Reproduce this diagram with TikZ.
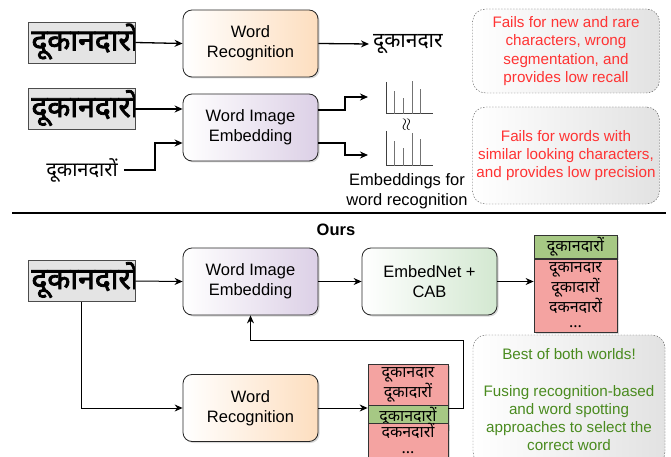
\documentclass[tikz,border=0pt]{standalone}
\usepackage{fontspec}
\setmainfont{Liberation Sans}
\newfontfamily\dev[Script=Devanagari]{Noto Sans}
\newfontfamily\devbold[Script=Devanagari, FakeBold=2.5]{Noto Sans}
\usetikzlibrary{arrows.meta, shadows}

\definecolor{recogfill}{HTML}{FDDEBF}
\definecolor{embedfill}{HTML}{DCD0E6}
\definecolor{cabfill}{HTML}{D3E8D1}
\definecolor{notefill}{HTML}{E2E2E2}
\definecolor{failred}{HTML}{FF3333}
\definecolor{goodgreen}{HTML}{4A8B1F}
\definecolor{rightcell}{HTML}{A6C884}
\definecolor{wrongcell}{HTML}{F4A3A1}
\definecolor{scanfill}{HTML}{E4E4E4}

\tikzset{
  box/.style={draw=black!85, line width=0.8pt, rounded corners=9pt,
    minimum width=135pt, minimum height=67pt, align=center,
    font=\fontsize{16.5}{20}\selectfont,
    drop shadow={shadow xshift=1.5pt, shadow yshift=-1.5pt, opacity=0.3}},
  recogbox/.style={box, left color=white, right color=recogfill},
  embedbox/.style={box, left color=white, right color=embedfill},
  cabbox/.style={box, left color=white, right color=cabfill},
  notebox/.style={draw=black!70, dash pattern=on 1.5pt off 1.5pt,
    rounded corners=13pt, left color=white, right color=notefill,
    align=center, font=\fontsize{15.2}{18.2}\selectfont},
  scan/.style={draw=black!70, line width=0.8pt, fill=scanfill,
    minimum width=107pt, minimum height=41pt, inner sep=0pt,
    path picture={\node[anchor=west, inner sep=0pt,
      font=\devbold\fontsize{30}{30}\selectfont]
      at ([xshift=3pt, yshift=1pt]path picture bounding box.west) {दूकानदारों};}},
  cell/.style={draw=black!80, line width=0.8pt, inner sep=0pt, align=center,
    font=\dev\fontsize{16}{19}\selectfont,
    drop shadow={shadow xshift=1.5pt, shadow yshift=-1.5pt, opacity=0.3}},
  conn/.style={line width=1.3pt, -{Stealth[length=8pt, width=7pt]}},
  bar/.style={black!55, line width=1pt},
}

\begin{document}
\begin{tikzpicture}[x=1pt, y=-1pt]
  \useasboundingbox (0,0) rectangle (671,457);

  % --- existing approaches ---
  \node[scan] (img1) at (81.5,42.5) {};
  \node[recogbox] (wr1) at (250.5,43.5) {Word\\Recognition};
  \node[anchor=west, inner sep=4pt, font=\dev\fontsize{21}{21}\selectfont]
    (out1) at (369,44) {दूकानदार};
  \draw[conn] (img1.east) -- (wr1.west);
  \draw[conn] (wr1.east) -- (out1.west);

  \node[scan] (img2) at (81.5,109) {};
  \node[embedbox] (wie1) at (250.5,127.5) {Word Image\\Embedding};
  \node[inner sep=6pt, font=\dev\fontsize{20}{20}\selectfont]
    (wtxt) at (82,170) {दूकानदारों};
  \coordinate (h1) at (386,114);
  \coordinate (h2) at (386,166);
  \coordinate (h1in) at (368,97);
  \coordinate (h2in) at (368,155);
  \draw[conn] (img2.east) -- (img2.east -| wie1.west);
  \draw[conn] (wtxt.east) -| (155,156) |- ([yshift=-15.5pt]wie1.west);
  \draw[conn] ([yshift=17.5pt]wie1.east) -| (345,104) |- (h1in);
  \draw[conn] ([yshift=-15.5pt]wie1.east) -| (345,150) |- (h2in);

  % embedding histograms
  \draw[black!75, line width=1pt] (h1) ++(0,-32) -- (h1) -- ++(47,0);
  \foreach \hx/\hy in {8/23, 17/16, 26/33, 34/25}
    \draw[bar] (h1) ++(\hx,0) -- ++(0,-\hy);
  \draw[black!75, line width=1pt] (h2) ++(0,-35) -- (h2) -- ++(47,0);
  \foreach \hx/\hy in {8/25, 17/18, 26/33, 34/27}
    \draw[bar] (h2) ++(\hx,0) -- ++(0,-\hy);
  \node[rotate=90, inner sep=0pt, font=\fontsize{17}{17}\selectfont]
    (approx) at (407,125) {$\approx$};
  \node[align=center, font=\fontsize{16.5}{20}\selectfont]
    (emblbl) at (407,191) {Embeddings for\\word recognition};

  \node[notebox, minimum width=187pt, minimum height=84pt, text=failred]
    (note1) at (566,51) {Fails for new and rare\\characters, wrong\\segmentation, and\\provides low recall};
  \node[notebox, minimum width=187pt, minimum height=97pt, text=failred]
    (note2) at (566,155.5) {Fails for words with\\similar looking characters,\\and provides low precision};

  \draw[line width=1.6pt] (12,213) -- (666,213);

  % --- ours ---
  \node[font=\bfseries\fontsize{16.5}{20}\selectfont] (ours) at (336,230) {Ours};
  \node[scan] (img3) at (81.5,281) {};
  \node[embedbox] (wie2) at (250.5,281.5) {Word Image\\Embedding};
  \node[cabbox] (cab) at (429.5,281.5) {EmbedNet +\\CAB};
  \node[cell, fill=rightcell, minimum width=83pt, minimum height=23pt]
    (l1a) at (575.5,246.5) {दूकानदारों};
  \node[cell, fill=wrongcell, minimum width=83pt, minimum height=73pt]
    (l1b) at (575.5,295.5) {दूकानदार\\दूकादारों\\दकनदारों\\[-4pt]...};
  \draw[conn, line width=1pt] (img3.east) -- (wie2.west);
  \draw[conn, line width=1pt] (wie2.east) -- (cab.west);
  \draw[conn, line width=1pt] (cab.east) -- (cab.east -| l1b.west);

  \node[recogbox] (wr2) at (250.5,408) {Word\\Recognition};
  \node[cell, fill=wrongcell, minimum width=80pt, minimum height=41pt,
    font=\dev\fontsize{16}{15.5}\selectfont]
    (l2a) at (408,384.5) {दूकानदार\\दूकादारों};
  \node[cell, fill=rightcell, minimum width=80pt, minimum height=24pt]
    (l2b) at (408,417) {दूकानदारों};
  \node[cell, fill=wrongcell, minimum width=80pt, minimum height=42pt,
    font=\dev\fontsize{16}{15}\selectfont]
    (l2c) at (408,451) {दकनदारों\\[0.5pt]...\\[10pt]};
  \coordinate (back) at (463,340);
  \draw[conn, line width=1pt] (img3.south) |- (wr2.west);
  \draw[conn, line width=1pt] (wr2.east) -- (wr2.east -| l2b.west);
  \draw[conn, line width=1pt] (wr2.east -| l2b.east) -| (back) -| (wie2.south);

  \node[notebox, minimum width=192pt, minimum height=130pt, text=goodgreen]
    (note3) at (569,400) {Best of both worlds!\\[18.2pt]Fusing recognition-based\\and word spotting\\approaches to select the\\correct word};
\end{tikzpicture}
\end{document}
